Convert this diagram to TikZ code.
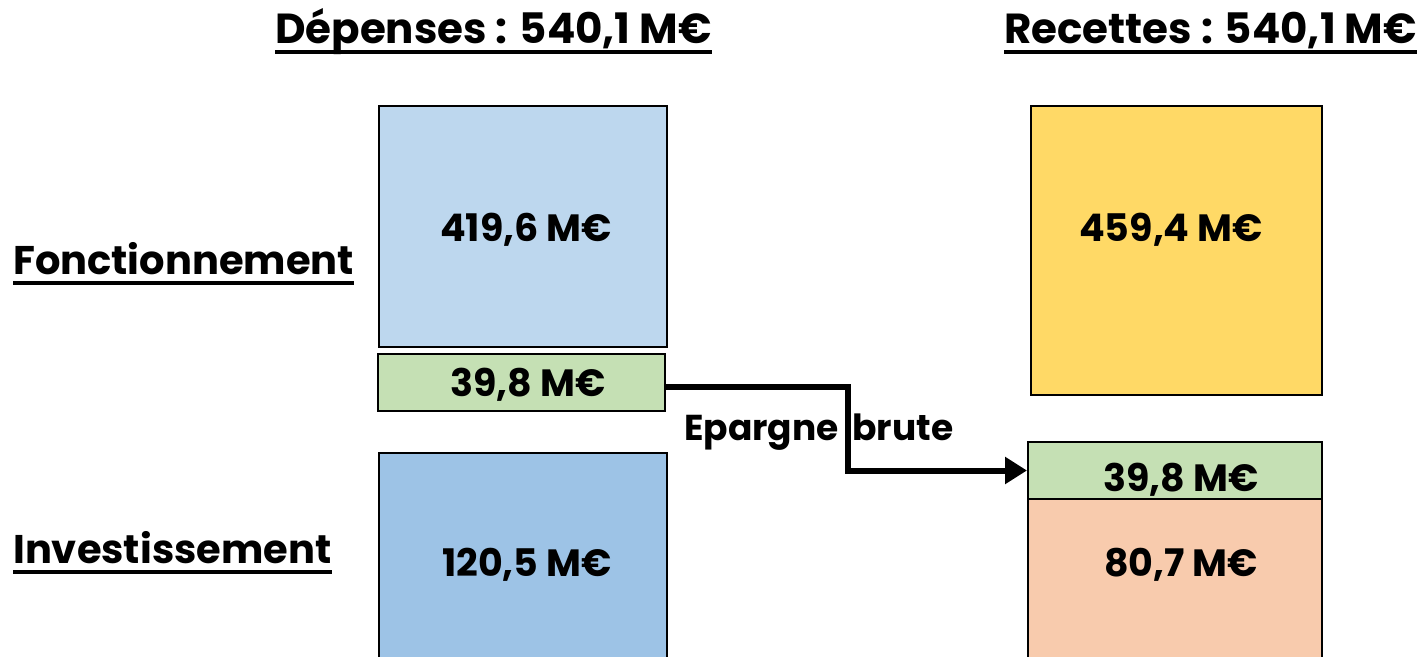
\documentclass[tikz,border=0pt]{standalone}
\usepackage{fontspec}
\setmainfont{Poppins}[BoldFont={* Bold}]
\usetikzlibrary{arrows.meta}
\definecolor{bluelight}{HTML}{BDD7EE}
\definecolor{bluemid}{HTML}{9DC3E6}
\definecolor{yellowbox}{HTML}{FFD966}
\definecolor{greenbox}{HTML}{C5E0B4}
\definecolor{orangebox}{HTML}{F8CBAD}
\tikzset{
  box/.style={draw=black, line width=2pt, rectangle, inner sep=0pt},
  val/.style={font=\bfseries\fontsize{38}{42}\selectfont, inner sep=0pt},
  ttl/.style={font=\bfseries\fontsize{42}{46}\selectfont, inner sep=0pt, anchor=base west},
  side/.style={font=\bfseries\fontsize{40}{44}\selectfont, inner sep=0pt, anchor=base west},
  uline/.style={line width=3.5pt},
  arr/.style={line width=6pt, -{Triangle[length=22pt,width=26pt]}}
}
\begin{document}
\begin{tikzpicture}[x=1pt,y=-1pt]
\useasboundingbox (0,0) rectangle (1424,656);
\begin{scope}
\clip (0,0) rectangle (1424,656);
% left column
\node[box, fill=bluelight, minimum width=288pt, minimum height=241pt] (df) at (523,226.5) {};
\node[box, fill=greenbox, minimum width=287pt, minimum height=57pt] (g1) at (521.5,382.5) {};
\node[box, fill=bluemid, minimum width=288pt, minimum height=240pt] (di) at (523,573) {};
% right column
\node[box, fill=yellowbox, minimum width=291pt, minimum height=289pt] (rf) at (1176.5,250.5) {};
\node[box, fill=orangebox, minimum width=294pt, minimum height=200pt] (ri) at (1175,599) {};
\node[box, fill=greenbox, minimum width=294pt, minimum height=57pt] (g2) at (1175,470.5) {};
\end{scope}
% values
\node[val] (v1) at (526,230) {419,6 M€};
\node[val] (v2) at (528,385) {39,8 M€};
\node[val] (v3) at (527,565) {120,5 M€};
\node[val] (v4) at (1171,230) {459,4 M€};
\node[val] (v5) at (1181,480) {39,8 M€};
\node[val] (v6) at (1181,565) {80,7 M€};
% arrow
\coordinate (bend) at (848,0);
\draw[arr] (g1.east |- 0,387) -- (bend |- 0,387) |- (g2.west);
\node[val, font=\bfseries\fontsize{36}{40}\selectfont, anchor=west] (ep) at (684,432) {Epargne\hspace{6pt} brute};
% titles
\node[ttl] (t1) at (275,43) {Dépenses : 540,1 M€};
\node[ttl] (t2) at (1004,43) {Recettes : 540,1 M€};
\node[side] (t3) at (13,274) {Fonctionnement};
\node[side] (t4) at (13,563) {Investissement};
\foreach \t in {t1,t2,t3,t4}{
  \draw[uline] ([yshift=-9pt]\t.base west) -- ([yshift=-9pt]\t.base east);
}
\end{tikzpicture}
\end{document}
